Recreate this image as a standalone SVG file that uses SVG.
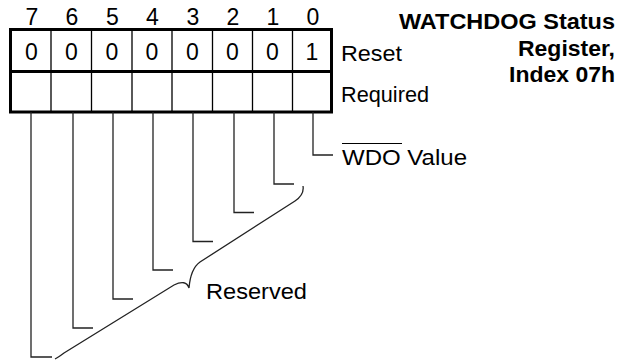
<svg xmlns="http://www.w3.org/2000/svg" width="626" height="360" viewBox="0 0 626 360">
<style>
text{font-family:"Liberation Sans",Arial,sans-serif;font-size:22px;fill:#000}
.c{text-anchor:middle;font-size:23px}
.t{font-weight:bold;text-anchor:end}
.box{fill:#fff;stroke:#000;stroke-width:3}
.div{stroke:#000;stroke-width:1.3}
.ln{fill:none;stroke:#222;stroke-width:1.3}
</style>
<rect width="626" height="360" fill="#fff"/>
<g id="title">
<text class="t" x="615" y="29" textLength="216" lengthAdjust="spacingAndGlyphs">WATCHDOG Status</text>
<text class="t" x="615" y="56" textLength="97" lengthAdjust="spacingAndGlyphs">Register,</text>
<text class="t" x="615" y="82" textLength="106" lengthAdjust="spacingAndGlyphs">Index 07h</text>
</g>
<g id="register">
<rect class="box" x="10.5" y="29.5" width="321" height="82.5"/>
<line x1="10.5" y1="71.5" x2="331.5" y2="71.5" stroke="#000" stroke-width="3"/>
<path class="div" d="M51 29.5V112M91.5 29.5V112M132 29.5V112M172 29.5V112M212.5 29.5V112M252.5 29.5V112M292.5 29.5V112"/>
<g id="bitnums">
<text class="c" x="32" y="25">7</text>
<text class="c" x="72" y="25">6</text>
<text class="c" x="112.5" y="25">5</text>
<text class="c" x="152.5" y="25">4</text>
<text class="c" x="193" y="25">3</text>
<text class="c" x="233" y="25">2</text>
<text class="c" x="273" y="25">1</text>
<text class="c" x="313" y="25">0</text>
</g>
<g id="resetvals">
<text class="c" x="31.5" y="60">0</text>
<text class="c" x="71.5" y="60">0</text>
<text class="c" x="112" y="60">0</text>
<text class="c" x="152" y="60">0</text>
<text class="c" x="192.5" y="60">0</text>
<text class="c" x="232.5" y="60">0</text>
<text class="c" x="272.5" y="60">0</text>
<text class="c" x="312" y="60">1</text>
</g>
<text x="341" y="61" textLength="61" lengthAdjust="spacingAndGlyphs">Reset</text>
<text x="341" y="102" textLength="88" lengthAdjust="spacingAndGlyphs">Required</text>
</g>
<g id="connectors">
<path class="ln" d="M313 112V155H333"/>
<path class="ln" d="M274 112V184H294"/>
<path class="ln" d="M234 112V212.5H254"/>
<path class="ln" d="M193 112V241.5H213"/>
<path class="ln" d="M153 112V270H173"/>
<path class="ln" d="M113 112V299H133"/>
<path class="ln" d="M73 112V328H93"/>
<path class="ln" d="M31 112V357H52"/>
<path class="ln" d="M303 186C304 192 301 197 295 201L200 262C193 267 190 276 189 288C187 282 182 281 174 285L64 353C60 356 57 358 55 359"/>
</g>
<g id="wdo">
<text x="342" y="165" textLength="125" lengthAdjust="spacingAndGlyphs">WDO Value</text>
<line x1="342" y1="143.5" x2="402" y2="143.5" stroke="#000" stroke-width="1"/>
</g>
<g id="reserved">
<text x="206" y="299" textLength="101" lengthAdjust="spacingAndGlyphs">Reserved</text>
</g>
</svg>
